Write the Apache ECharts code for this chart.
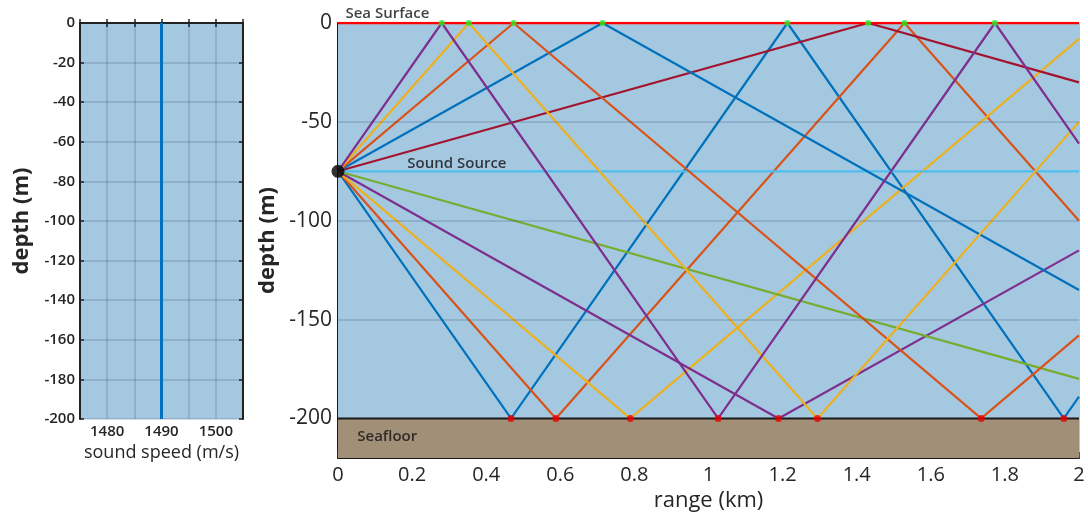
<!DOCTYPE html>
<html>
<head>
<meta charset="utf-8">
<script src="https://cdn.jsdelivr.net/npm/echarts@6/dist/echarts.min.js"></script>
<style>
html,body{margin:0;padding:0;background:#fff;}
#c{width:1088px;height:517px;}
</style>
</head>
<body>
<div id="c"></div>
<script>
// ---- data ----
const speedProfileSpeed = [1490, 1490];
const speedProfileDepth = [0, -200];
const speedTicks = [1480, 1490, 1500];
const depthTicksLeft = [0, -20, -40, -60, -80, -100, -120, -140, -160, -180, -200];
const depthTicksRight = [0, -50, -100, -150, -200];
const rangeTicks = [0, 0.2, 0.4, 0.6, 0.8, 1, 1.2, 1.4, 1.6, 1.8, 2];
const sourcePoint = [0, -75];

// each ray: [range km, depth m] vertices (source, reflections, end)
const ray1 = [[0, -75], [0.467, -200], [1.213, 0], [1.959, -200], [2, -189]];
const ray2 = [[0, -75], [0.588, -200], [1.529, 0], [2, -100]];
const ray3 = [[0, -75], [0.789, -200], [2, -8]];
const ray4 = [[0, -75], [1.189, -200], [2, -115]];
const ray5 = [[0, -75], [2, -180]];
const ray6 = [[0, -75], [2, -75]];
const ray7 = [[0, -75], [1.431, 0], [2, -30]];
const ray8 = [[0, -75], [0.714, 0], [2, -135]];
const ray9 = [[0, -75], [0.474, 0], [1.736, -200], [2, -158]];
const ray10 = [[0, -75], [0.353, 0], [1.294, -200], [2, -50]];
const ray11 = [[0, -75], [0.280, 0], [1.026, -200], [1.773, 0], [2, -61]];

const surfaceHits = [0.280, 0.353, 0.474, 0.714, 1.213, 1.431, 1.529, 1.773];
const bottomHits = [0.467, 0.588, 0.789, 1.026, 1.189, 1.294, 1.736, 1.959];

const annotationText = ['Sea Surface', 'Sound Source', 'Seafloor'];

// ---- styling / build ----
const rays = [ray1, ray2, ray3, ray4, ray5, ray6, ray7, ray8, ray9, ray10, ray11];
const palette = ['#0072BD', '#D95319', '#EDB120', '#7E2F8E', '#77AC30', '#4DBEEE', '#A2142F'];
const water = '#A5C8E1';
const floorColor = '#A28F78';
const gridCol = 'rgba(40,60,90,0.22)';
const txt = '#262626';
const FONT = '"Open Sans", "Noto Sans", sans-serif';

const chart = echarts.init(document.getElementById('c'), null, {renderer: 'canvas'});

const series = [];
// water + seafloor areas (under grid lines)
series.push({
  type: 'line', xAxisIndex: 2, yAxisIndex: 2, z: -2, data: [], silent: true,
  markArea: {
    silent: true,
    data: [
      [{coord: [0, 0], itemStyle: {color: water, opacity: 1}}, {coord: [2, -200]}],
      [{coord: [0, -200], itemStyle: {color: floorColor, opacity: 1}}, {coord: [2, -220]}]
    ]
  }
});
// horizontal grid lines of right panel
series.push({
  type: 'line', xAxisIndex: 2, yAxisIndex: 2, z: -1, data: [], silent: true,
  markLine: {
    silent: true, symbol: 'none', label: {show: false},
    lineStyle: {color: gridCol, width: 1.5, type: 'solid'},
    data: depthTicksRight.filter(v => v !== 0 && v !== -200).map(v => ({yAxis: v}))
  }
});
// sound speed profile
series.push({
  type: 'line', xAxisIndex: 0, yAxisIndex: 0, z: 3,
  data: speedProfileSpeed.map((s, i) => [s, speedProfileDepth[i]]),
  showSymbol: false, lineStyle: {color: '#0072BD', width: 3}
});
// rays
rays.forEach((r, i) => {
  series.push({
    type: 'line', xAxisIndex: 2, yAxisIndex: 2, z: 3,
    data: r, showSymbol: false, silent: true,
    lineStyle: {color: palette[i % palette.length], width: 2.2}
  });
});
// sea surface line
series.push({
  type: 'line', xAxisIndex: 2, yAxisIndex: 2, z: 4,
  data: [[rangeTicks[0], 0], [rangeTicks[rangeTicks.length - 1], 0]],
  showSymbol: false, lineStyle: {color: '#FF0000', width: 2.5}
});
// seafloor line
series.push({
  type: 'line', xAxisIndex: 2, yAxisIndex: 2, z: 4,
  data: [[rangeTicks[0], -200], [rangeTicks[rangeTicks.length - 1], -200]],
  showSymbol: false, lineStyle: {color: '#1a1a1a', width: 2}
});
// reflection points
series.push({
  type: 'scatter', xAxisIndex: 2, yAxisIndex: 2, z: 5,
  data: surfaceHits.map(x => [x, 0]), symbolSize: 6,
  itemStyle: {color: '#22EE22'}
});
series.push({
  type: 'scatter', xAxisIndex: 2, yAxisIndex: 2, z: 5,
  data: bottomHits.map(x => [x, -200]), symbolSize: 7,
  itemStyle: {color: '#EE0000'}
});
// source
series.push({
  type: 'scatter', xAxisIndex: 2, yAxisIndex: 2, z: 6,
  data: [sourcePoint], symbolSize: 13, itemStyle: {color: '#000'}
});
// annotations
const annoPos = [[0.02, 0, -9], [0.187, -75, -8], [0.052, -209, 0]];
series.push({
  type: 'scatter', xAxisIndex: 2, yAxisIndex: 2, z: 7, symbolSize: 0, silent: true,
  data: annotationText.map((t, i) => ({value: [annoPos[i][0], annoPos[i][1]], name: t,
    label: {offset: [0, annoPos[i][2]]}})),
  label: {
    show: true, position: 'right', distance: 0, formatter: p => p.name,
    fontFamily: FONT, fontSize: 15, fontWeight: 600, color: '#111',
    align: 'left', verticalAlign: 'middle'
  }
});

const tickLab = (size, weight) => ({fontFamily: FONT, fontSize: size, fontWeight: weight, color: txt});

const option = {
  animation: false,
  backgroundColor: '#fff',
  grid: [
    {left: 80, top: 23, width: 163, height: 396, show: true, backgroundColor: water, borderWidth: 0},
    {left: 338, top: 23, width: 741, height: 435, show: false}
  ],
  xAxis: [
    { // 0 left bottom
      type: 'value', gridIndex: 0, min: 1475, max: 1505, interval: 5,
      axisLine: {show: true, lineStyle: {color: '#222', width: 2}},
      axisTick: {show: true, inside: true, length: 4, lineStyle: {color: '#222', width: 1.5}},
      axisLabel: Object.assign(tickLab(15, 600), {margin: 5,
        formatter: v => speedTicks.indexOf(v) >= 0 ? String(v) : ''}),
      splitLine: {show: true, lineStyle: {color: gridCol, width: 1.5}},
      name: 'sound speed (m/s)', nameLocation: 'middle', nameGap: 23,
      nameTextStyle: {fontFamily: FONT, fontSize: 18, fontWeight: 500, color: txt}
    },
    { // 1 left top mirror
      type: 'value', gridIndex: 0, position: 'top', min: 1475, max: 1505, interval: 5,
      axisLine: {show: true, lineStyle: {color: '#222', width: 2}},
      axisTick: {show: true, inside: true, length: 4, lineStyle: {color: '#222', width: 1.5}},
      axisLabel: {show: false}, splitLine: {show: false}
    },
    { // 2 right panel
      type: 'value', gridIndex: 1, min: 0, max: 2, interval: 0.2,
      axisLine: {show: true, onZero: false, lineStyle: {color: '#1a1a1a', width: 2}},
      axisTick: {show: true, inside: true, length: 6, lineStyle: {color: '#333', width: 1.5}},
      axisLabel: Object.assign(tickLab(20, 500), {margin: 7,
        formatter: v => String(Math.round(v * 10) / 10)}),
      splitLine: {show: true, lineStyle: {color: gridCol, width: 1.5}},
      name: 'range (km)', nameLocation: 'middle', nameGap: 30,
      nameTextStyle: {fontFamily: FONT, fontSize: 22, fontWeight: 500, color: txt}
    }
  ],
  yAxis: [
    { // 0 left panel
      type: 'value', gridIndex: 0, min: -200, max: 0, interval: 20,
      axisLine: {show: true, onZero: false, lineStyle: {color: '#222', width: 2}},
      axisTick: {show: true, inside: true, length: 4, lineStyle: {color: '#222', width: 1.5}},
      axisLabel: Object.assign(tickLab(15, 600), {margin: 5}),
      splitLine: {show: true, lineStyle: {color: gridCol, width: 1.5}},
      name: 'depth (m)', nameLocation: 'middle', nameGap: 47,
      nameTextStyle: {fontFamily: FONT, fontSize: 22, fontWeight: 'bold', color: txt}
    },
    { // 1 left right mirror
      type: 'value', gridIndex: 0, position: 'right', min: -200, max: 0, interval: 20,
      axisLine: {show: true, onZero: false, lineStyle: {color: '#222', width: 2}},
      axisTick: {show: true, inside: true, length: 4, lineStyle: {color: '#222', width: 1.5}},
      axisLabel: {show: false}, splitLine: {show: false}
    },
    { // 2 right panel
      type: 'value', gridIndex: 1, min: -220, max: 0,
      axisLine: {show: true, onZero: false, lineStyle: {color: '#1a1a1a', width: 2}},
      axisTick: {show: true, inside: true, length: 6, customValues: depthTicksRight,
        lineStyle: {color: '#333', width: 1.5}},
      axisLabel: Object.assign(tickLab(21, 500), {margin: 6, customValues: depthTicksRight}),
      splitLine: {show: false},
      name: 'depth (m)', nameLocation: 'middle', nameGap: 46,
      nameTextStyle: {fontFamily: FONT, fontSize: 22, fontWeight: 'bold', color: txt}
    },
    { // 3 right panel right spine
      type: 'value', gridIndex: 1, position: 'right', min: -220, max: 0,
      axisLine: {show: true, onZero: false, lineStyle: {color: 'rgba(0,0,0,0.18)', width: 1.5}},
      axisTick: {show: false}, axisLabel: {show: false}, splitLine: {show: false}
    }
  ],
  series: series
};
chart.setOption(option);
</script>
</body>
</html>
